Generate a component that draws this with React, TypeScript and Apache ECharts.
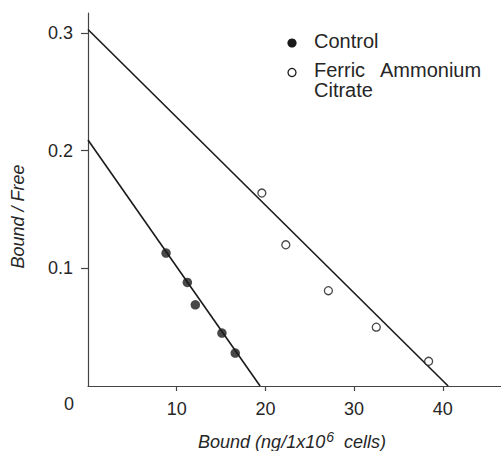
import React, { useEffect, useRef } from "react";
import * as echarts from "echarts";

const controlBound = [8.8, 11.2, 12.1, 15.1, 16.6];
const controlRatio = [0.113, 0.088, 0.069, 0.045, 0.028];
const facBound = [19.6, 22.3, 27.1, 32.5, 38.4];
const facRatio = [0.164, 0.12, 0.081, 0.05, 0.021];
const controlFitX = [0, 19.4];
const controlFitY = [0.209, 0];
const facFitX = [0, 40.6];
const facFitY = [0.303, 0];
const xTickValues = [10, 20, 30, 40];
const yTickValues = [0.1, 0.2, 0.3];
const legendLabels = ["Control", "Ferric", "Ammonium", "Citrate"];

const FONT = "Liberation Sans";
const INK = "#1a1a1a";
const TXT = "#262626";

export default function App() {
  const ref = useRef<HTMLDivElement>(null);
  useEffect(() => {
    document.body.style.margin = "0";
    const chart = echarts.init(ref.current!, null, { renderer: "svg" });
    const zip = (a: number[], b: number[]) => a.map((v, i) => [v, b[i]]);
    chart.setOption({
      animation: false,
      backgroundColor: "#fff",
      grid: { left: 88, right: 0, top: 13, bottom: 65 },
      xAxis: {
        type: "value",
        min: 0,
        max: 46.56,
        splitLine: { show: false },
        axisLine: { show: true, lineStyle: { color: "#444", width: 1.2 } },
        axisTick: { show: true, length: 5, customValues: xTickValues, lineStyle: { color: "#444", width: 1.2 } },
        axisLabel: {
          customValues: xTickValues,
          fontFamily: FONT,
          fontSize: 18,
          color: TXT,
          margin: 14,
        },
      },
      yAxis: {
        type: "value",
        min: 0,
        max: 0.317,
        splitLine: { show: false },
        axisLine: { show: true, lineStyle: { color: "#444", width: 1.2 } },
        axisTick: { show: true, length: 7, customValues: yTickValues, lineStyle: { color: "#444", width: 1.2 } },
        axisLabel: {
          customValues: yTickValues,
          fontFamily: FONT,
          fontSize: 18,
          color: TXT,
          margin: 15,
          formatter: (v: number) => v.toFixed(1),
        },
      },
      series: [
        {
          type: "line",
          data: zip(controlFitX, controlFitY),
          symbol: "none",
          lineStyle: { color: INK, width: 1.6 },
          silent: true,
        },
        {
          type: "line",
          data: zip(facFitX, facFitY),
          symbol: "none",
          lineStyle: { color: INK, width: 1.6 },
          silent: true,
        },
        {
          type: "scatter",
          name: "Control",
          data: zip(controlBound, controlRatio),
          symbol: "circle",
          symbolSize: 9.5,
          itemStyle: { color: INK },
          z: 5,
        },
        {
          type: "scatter",
          name: "Ferric Ammonium Citrate",
          data: zip(facBound, facRatio),
          symbol: "circle",
          symbolSize: 8,
          itemStyle: { color: "#fff", borderColor: INK, borderWidth: 1.3 },
          z: 5,
        },
      ],
      graphic: [
        { type: "circle", shape: { cx: 292, cy: 43, r: 4.6 }, style: { fill: INK } },
        { type: "circle", shape: { cx: 292, cy: 72.5, r: 4 }, style: { fill: "#fff", stroke: INK, lineWidth: 1.3 } },
        { type: "text", x: 314, y: 40.5, style: { text: legendLabels[0], font: `20px "${FONT}"`, fill: TXT, verticalAlign: "middle" } },
        { type: "text", x: 314, y: 70, style: { text: legendLabels[1], font: `20px "${FONT}"`, fill: TXT, verticalAlign: "middle" } },
        { type: "text", x: 380, y: 70, style: { text: legendLabels[2], font: `20px "${FONT}"`, fill: TXT, verticalAlign: "middle" } },
        { type: "text", x: 314, y: 90, style: { text: legendLabels[3], font: `20px "${FONT}"`, fill: TXT, verticalAlign: "middle" } },
        { type: "text", x: 69, y: 404, style: { text: "0", font: `18px "${FONT}"`, fill: TXT, align: "center", verticalAlign: "middle" } },
        {
          type: "text",
          x: 18,
          y: 216.5,
          rotation: Math.PI / 2,
          style: { text: "Bound / Free", font: `italic 18px "${FONT}"`, fill: TXT, align: "center", verticalAlign: "middle" },
        },
        {
          type: "text",
          x: 292,
          y: 442,
          style: {
            text: "{n|Bound (ng/1x10}{s|6}{n|  cells)}",
            align: "center",
            verticalAlign: "middle",
            rich: {
              n: { fontFamily: FONT, fontStyle: "italic", fontSize: 18, fill: TXT, color: TXT },
              s: { fontFamily: FONT, fontStyle: "italic", fontSize: 14, fill: TXT, color: TXT, verticalAlign: "top", padding: [0, 0, 10, 1] },
            },
          },
        },
      ],
    });
    return () => chart.dispose();
  }, []);
  return <div ref={ref} style={{ width: 501, height: 451 }} />;
}
